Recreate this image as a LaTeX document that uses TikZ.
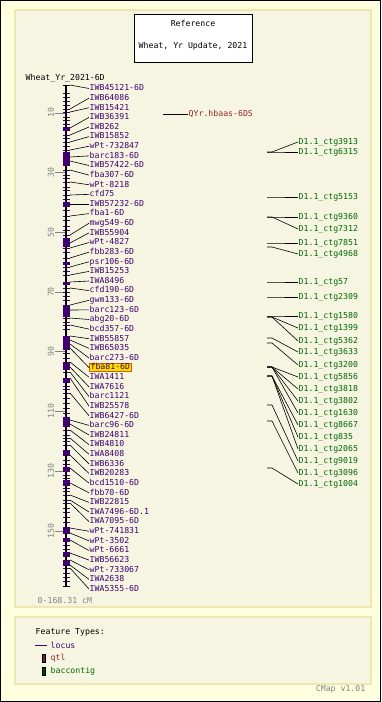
\documentclass[tikz,border=0pt]{standalone}
\usepackage{fontspec}
\setmonofont{DejaVu Sans Mono}
\definecolor{outerbg}{RGB}{255,255,224}
\definecolor{panelbg}{RGB}{245,245,226}
\definecolor{panelbd}{RGB}{236,232,176}
\definecolor{locuscol}{RGB}{64,0,112}
\definecolor{qtlcol}{RGB}{150,40,40}
\definecolor{qtlbox}{RGB}{100,40,40}
\definecolor{ctgcol}{RGB}{0,105,0}
\definecolor{ctgbox}{RGB}{0,70,0}
\definecolor{scalecol}{RGB}{130,130,130}
\definecolor{hlfill}{RGB}{255,220,0}
\definecolor{hldraw}{RGB}{200,100,0}
\begin{document}
\begin{tikzpicture}[x=1pt,y=-1pt,
  every node/.style={font=\ttfamily\fontsize{8.2}{9}\selectfont, inner sep=0.5pt},
  panel/.style={fill=panelbg, draw=panelbd, line width=1.5pt},
  lbl/.style={anchor=west, text=locuscol, text height=5.8pt, text depth=1.2pt},
  hilbl/.style={lbl, fill=hlfill, draw=hldraw, line width=0.8pt, inner xsep=1.2pt},
  ctglbl/.style={anchor=west, text=ctgcol, text height=5.8pt, text depth=1.2pt},
  conn/.style={draw=black, line width=0.6pt},
  locustick/.style={draw=locuscol, line width=1pt},
  locusbin/.style={fill=locuscol},
  scaletick/.style={draw=scalecol, line width=0.6pt},
  scalelbl/.style={rotate=90, text=scalecol},
  graytxt/.style={text=scalecol}]
\useasboundingbox (0,0) rectangle (381,702);
% background and panels
\fill[outerbg] (0,0) rectangle (381,702);
\draw[black, line width=1pt] (0.5,0.5) rectangle (380.5,701.5);
\draw[panel] (15,10) rectangle (371,607);
\draw[panel] (15,617) rectangle (371,684);
% title
\node[draw=black, fill=white, line width=0.8pt, minimum width=118pt, minimum height=48pt] (titlebox) at (193,38) {};
\node (t1) at (193,23) {Reference};
\node (t2) at (193,46) {Wheat, Yr Update, 2021};
\node[anchor=west] (chrname) at (25,78) {Wheat\_Yr\_2021-6D};
% scale
\foreach \c in {10,30,50,70,90,110,130,150} {
  \draw[scaletick] (55,{83+2.986*\c}) -- (65,{83+2.986*\c});
  \node[scalelbl] (s\c) at (51,{83+2.986*\c}) {\c};
}
% extra ticks on bar
\foreach \t in {93,97,101,105,117,120,124,138,146,175,178,187,190,199,210,220,226,230,252,262,271,292,296,300,322,329,353,358,386,389,398,403,408,413,435,441,450,460,464,475,478,488,491,508,512,517,522,545,549,573,577,581} {
  \draw[locustick] (62.5,\t) -- (69.5,\t);
}
% loci
\foreach \txt/\by/\st [count=\i] in {
 IWB45121-6D/85/lbl, IWB64086/109/lbl, IWB15421/112/lbl, IWB36391/128/lbl,
 IWB262/135/lbl, IWB15852/142/lbl, wPt-732847/150/lbl, barc183-6D/157/lbl,
 IWB57422-6D/161/lbl, fba307-6D/170/lbl, wPt-8218/182/lbl, cfd75/195/lbl,
 IWB57232-6D/204/lbl, fba1-6D/216/lbl, mwg549-6D/235/lbl, IWB55904/243/lbl,
 wPt-4827/248/lbl, fbb283-6D/258/lbl, psr106-6D/267/lbl, IWB15253/275/lbl,
 IWA8496/282/lbl, cfd190-6D/288/lbl, gwm133-6D/305/lbl, barc123-6D/310/lbl,
 abg20-6D/318/lbl, bcd357-6D/325/lbl, IWB55857/336/lbl, IWB65035/340/lbl,
 barc273-6D/344/lbl, fba81-6D/348/hilbl, IWA1411/362/lbl, IWA7616/367/lbl,
 barc1121/372/lbl, IWB25578/378/lbl, IWB6427-6D/393/lbl, barc96-6D/420/lbl,
 IWB24811/424/lbl, IWB4810/430/lbl, IWA8408/438/lbl, IWB6336/445/lbl,
 IWB20283/455/lbl, bcd1510-6D/468/lbl, fbb70-6D/483/lbl, IWB22815/495/lbl,
 IWA7496-6D.1/500/lbl, IWA7095-6D/503/lbl, wPt-741831/528/lbl, wPt-3502/533/lbl,
 wPt-6661/540/lbl, IWB56623/553/lbl, wPt-733067/560/lbl, IWA2638/565/lbl,
 IWA5355-6D/568/lbl} {
  \node[\st] (l\i) at (89,{88.5+(\i-1)*9.625}) {\txt};
  \coordinate (b\i) at (70,\by);
  \draw[conn] (b\i) -- (l\i.west);
  \draw[locustick] (62.5,\by) -- (69.5,\by);
}
% bar
\draw[black, line width=1.6pt] (66,85) -- (66,586);
\draw[black, line width=1pt] (62.5,85) -- (69.5,85);
\draw[black, line width=1pt] (62.5,586) -- (69.5,586);
% bins
\foreach \a/\b in {127/131,152/166,202/207,238/247,262/265,282/285,306/317,336/350,363/370,378/383,417/427,450/455,467/472,480/486,527/533,538/542,552/557,561/565} {
  \fill[locusbin] (62.5,\a) rectangle (69.5,\b);
}
% qtl
\coordinate (q0) at (163,114);
\node[anchor=west, text=qtlcol, text height=5.8pt, text depth=1.2pt] (qtl) at (188,114) {QYr.hbaas-6DS};
\draw[conn] (q0) -- (qtl.west);
% contigs
\foreach \txt/\sy/\ly [count=\j] in {
 3913/152/142, 6315/152/152, 5153/197/197, 9360/217/217, 7312/217/229,
 7851/243/243, 4968/247/254, 57/282/282, 2309/297/297, 1580/316/316,
 1399/317/328, 5362/317/341, 3633/338/352, 3200/343/365, 5856/367/377,
 3818/367/389, 3802/367/401, 1630/367/413, 8667/376/425, 835/376/437,
 2065/376/449, 9019/405/461, 3096/421/473, 1004/468/484} {
  \node[ctglbl] (c\j) at (298,\ly) {D1.1\_ctg\txt};
  \coordinate (cs\j) at (267,\sy);
  \draw[conn] (cs\j) -- ++(5,0) -- (c\j.west);
}
\node[anchor=west, graytxt] (range) at (37,601) {0-168.31 cM};
% legend
\node[anchor=west] (ftitle) at (35,632) {Feature Types:};
\coordinate (lg0) at (35,645);
\node[anchor=west, text=locuscol] (lglocus) at (50,645) {locus};
\draw[draw=locuscol, line width=0.9pt] (lg0) -- ++(12,0);
\node[draw=black, fill=qtlbox, line width=0.5pt, minimum width=3.5pt, minimum height=8pt, inner sep=0pt] (qbox) at (43.5,658) {};
\node[anchor=west, text=qtlcol] (lgqtl) at (50,658) {qtl};
\node[draw=black, fill=ctgbox, line width=0.5pt, minimum width=3.5pt, minimum height=8pt, inner sep=0pt] (cbox) at (43.5,671) {};
\node[anchor=west, text=ctgcol] (lgctg) at (50,671) {baccontig};
\node[anchor=east, graytxt] (ver) at (366,689) {CMap v1.01};
\end{tikzpicture}
\end{document}
